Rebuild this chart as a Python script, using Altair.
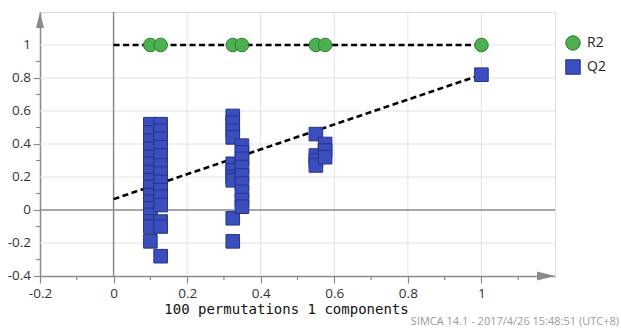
import altair as alt
import pandas as pd

# ---- data ----
x_domain = [-0.2, 1.2]
y_domain = [-0.4, 1.2]
x_major = [-0.2, 0.0, 0.2, 0.4, 0.6, 0.8, 1.0]
x_minor = [-0.1, 0.1, 0.3, 0.5, 0.7, 0.9, 1.1]
y_major = [-0.4, -0.2, 0.0, 0.2, 0.4, 0.6, 0.8, 1.0]
y_labels = ["-0.4", "-0.2", "0", "0.2", "0.4", "0.6", "0.8", "1"]
y_minor = [-0.3, -0.1, 0.1, 0.3, 0.5, 0.7, 0.9]
x_grid = [0.2, 0.4, 0.6, 0.8, 1.0]
y_grid = [-0.2, 0.2, 0.4, 0.6, 0.8, 1.0]

r2_x = [0.10, 0.128, 0.324, 0.349, 0.55, 0.575, 1.0]
r2_y = [1.0, 1.0, 1.0, 1.0, 1.0, 1.0, 1.0]

q2_x = ([0.10] * 16 + [0.128] * 14 + [0.324] * 10 + [0.349] * 9
        + [0.55] * 4 + [0.575] * 3 + [1.0])
q2_y = ([0.52, 0.47, 0.42, 0.37, 0.32, 0.28, 0.23, 0.18, 0.14, 0.09, 0.05, 0.01, -0.03, -0.07, -0.10, -0.19]
        + [0.52, 0.48, 0.43, 0.38, 0.33, 0.27, 0.22, 0.17, 0.12, 0.08, 0.03, -0.07, -0.10, -0.28]
        + [0.57, 0.53, 0.48, 0.44, 0.28, 0.24, 0.20, 0.18, -0.05, -0.19]
        + [0.39, 0.35, 0.31, 0.26, 0.21, 0.16, 0.11, 0.06, 0.02]
        + [0.46, 0.33, 0.30, 0.27]
        + [0.40, 0.36, 0.32]
        + [0.82])

line_x = [0.0, 1.0]
r2_line = [1.0, 1.0]
q2_line = [0.066, 0.82]

series = ["R2", "Q2"]
fill_colors = ["#4caf50", "#3a4fbd"]
stroke_colors = ["#2e7d32", "#26348a"]

# ---- tables ----
pts = pd.concat([
    pd.DataFrame({"x": r2_x, "y": r2_y, "series": "R2"}),
    pd.DataFrame({"x": q2_x, "y": q2_y, "series": "Q2"}),
], ignore_index=True)
pts["order"] = pts["series"].map({"R2": 0, "Q2": 1})

lines = pd.concat([
    pd.DataFrame({"x": line_x, "y": r2_line, "series": "R2"}),
    pd.DataFrame({"x": line_x, "y": q2_line, "series": "Q2"}),
], ignore_index=True)

zero = pd.DataFrame({"v": [0.0]})
arrow_up = pd.DataFrame({"x": [x_domain[0]], "y": [y_domain[1]]})
arrow_right = pd.DataFrame({"x": [x_domain[1]], "y": [y_domain[0]]})
ylab_df = pd.DataFrame({"v": y_major, "t": y_labels})

AX = "#8a8a8a"
GRID = "#e2e2e2"
lab = "datum.value < -0.001 ? '-' + format(-datum.value, '~g') : format(abs(datum.value) < 0.001 ? 0 : datum.value, '~g')"

xscale = alt.Scale(domain=x_domain, nice=False, zero=False)
yscale = alt.Scale(domain=y_domain, nice=False, zero=False)

xaxis = alt.Axis(
    values=x_major, labelExpr=lab, tickSize=7, tickColor=AX, tickWidth=1.2,
    grid=False, domainColor=AX, domainWidth=1.5,
    labelFont="Open Sans", labelFontSize=13.5, labelColor="#333", labelPadding=3,
    labelFlush=False, labelOverlap=False,
    title="100 permutations 1 components", titleFont="DejaVu Sans Mono",
    titleFontSize=14, titleFontWeight="normal", titleColor="#111",
    titleX=246, titleY=37, titleAlign="center", titleBaseline="alphabetic",
)
yaxis = alt.Axis(
    values=y_major, labels=False, tickSize=7, tickColor=AX, tickWidth=1.2,
    grid=False, domainColor=AX, domainWidth=1.5, title=None,
)

base_axes = alt.Chart(zero).mark_point(opacity=0).encode(
    x=alt.X("v:Q", scale=xscale, axis=xaxis),
    y=alt.Y("v:Q", scale=yscale, axis=yaxis),
)

# y tick labels
ylabels = alt.Chart(ylab_df).mark_text(align="right", baseline="middle", font="Open Sans",
                                       fontSize=13.5, color="#333", dx=-9).encode(
    y=alt.Y("v:Q", scale=yscale), x=alt.value(0), text="t:N")

# grid lines
vgrid = alt.Chart(pd.DataFrame({"g": x_grid})).mark_rule(color=GRID, strokeWidth=1).encode(
    x=alt.X("g:Q", scale=xscale))
hgrid = alt.Chart(pd.DataFrame({"g": y_grid})).mark_rule(color=GRID, strokeWidth=1).encode(
    y=alt.Y("g:Q", scale=yscale))

# minor ticks
xmin = alt.Chart(pd.DataFrame({"m": x_minor})).mark_rule(color=AX, strokeWidth=1.2).encode(
    x=alt.X("m:Q", scale=xscale), y=alt.value(264), y2=alt.value(268))
ymin = alt.Chart(pd.DataFrame({"m": y_minor})).mark_rule(color=AX, strokeWidth=1.2).encode(
    y=alt.Y("m:Q", scale=yscale), x=alt.value(-4), x2=alt.value(0))

zero_v = alt.Chart(zero).mark_rule(color=AX, strokeWidth=1.5).encode(
    x=alt.X("v:Q", scale=xscale))
zero_h = alt.Chart(zero).mark_rule(color=AX, strokeWidth=1.5).encode(
    y=alt.Y("v:Q", scale=yscale))

dash = alt.Chart(lines).mark_line(color="black", strokeWidth=2.6, strokeDash=[6, 3.5]).encode(
    x=alt.X("x:Q", scale=xscale),
    y=alt.Y("y:Q", scale=yscale),
    detail="series:N",
)

points = alt.Chart(pts).mark_point(filled=True, opacity=1, size=185, strokeWidth=1).encode(
    x=alt.X("x:Q", scale=xscale),
    y=alt.Y("y:Q", scale=yscale),
    color=alt.Color("series:N", scale=alt.Scale(domain=series, range=fill_colors),
                    legend=alt.Legend(title=None, orient="none", legendX=525, legendY=23,
                                      padding=0, symbolSize=210, rowPadding=4,
                                      labelFont="Open Sans", labelFontSize=14,
                                      labelColor="#222", labelOffset=6,
                                      symbolStrokeWidth=1)),
    shape=alt.Shape("series:N", scale=alt.Scale(domain=series, range=["circle", "square"])),
    stroke=alt.Stroke("series:N", scale=alt.Scale(domain=series, range=stroke_colors), legend=None),
    order="order:Q",
)

up = alt.Chart(arrow_up).mark_point(filled=True, opacity=1, color=AX, size=256, yOffset=8,
                                    shape="M0,-1L0.5,1L-0.5,1Z").encode(
    x=alt.X("x:Q", scale=xscale), y=alt.Y("y:Q", scale=yscale))
right = alt.Chart(arrow_right).mark_point(filled=True, opacity=1, color=AX, size=324, xOffset=-9,
                                          shape="M1,0L-1,-0.5L-1,0.5Z").encode(
    x=alt.X("x:Q", scale=xscale), y=alt.Y("y:Q", scale=yscale))

chart = alt.layer(base_axes, vgrid, hgrid, xmin, ymin, zero_v, zero_h, ylabels, dash, points, up, right).properties(
    width=515, height=264,
    autosize=alt.AutoSizeParams(type="none"),
    padding={"left": 40, "top": 12, "right": 66, "bottom": 54},
    title=alt.TitleParams("SIMCA 14.1 - 2017/4/26 15:48:51 (UTC+8)", orient="bottom",
                          anchor="end", frame="group", dx=64, offset=0,
                          font="Open Sans", fontSize=11, fontWeight="normal", color="#9a9a9a"),
).configure_view(strokeWidth=0, clip=False).configure(background="white")

chart.save("out.html", embed_options={"renderer": "svg", "actions": False})
